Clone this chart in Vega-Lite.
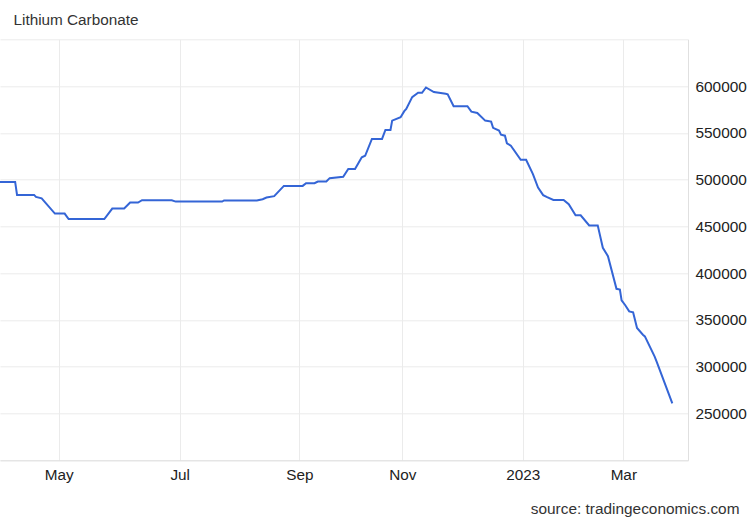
{
  "$schema": "https://vega.github.io/schema/vega-lite/v6.json",
  "width": 688,
  "height": 421,
  "autosize": "none",
  "padding": {"left": 0, "top": 39.3, "right": 62, "bottom": 59.7},
  "background": "white",
  "title": {
    "text": "Lithium Carbonate",
    "anchor": "start",
    "frame": "group",
    "dx": 13.5,
    "dy": 14.5,
    "offset": 13.8,
    "baseline": "alphabetic",
    "font": "Liberation Sans",
    "fontSize": 15.3,
    "fontWeight": "normal",
    "color": "#333333"
  },
  "config": {
    "view": {"stroke": null},
    "font": "Liberation Sans"
  },
  "data": {
    "format": {"parse": {"date": "date"}},
    "values": [
      {"date": "2022-03-31", "value": 497600},
      {"date": "2022-04-08", "value": 497600},
      {"date": "2022-04-09", "value": 483700},
      {"date": "2022-04-18", "value": 483700},
      {"date": "2022-04-19", "value": 481500},
      {"date": "2022-04-22", "value": 480000},
      {"date": "2022-04-29", "value": 463700},
      {"date": "2022-05-04", "value": 463700},
      {"date": "2022-05-06", "value": 457900},
      {"date": "2022-05-24", "value": 457900},
      {"date": "2022-05-28", "value": 469100},
      {"date": "2022-06-03", "value": 469100},
      {"date": "2022-06-06", "value": 475500},
      {"date": "2022-06-10", "value": 475500},
      {"date": "2022-06-12", "value": 478000},
      {"date": "2022-06-27", "value": 478000},
      {"date": "2022-06-29", "value": 476500},
      {"date": "2022-07-23", "value": 476500},
      {"date": "2022-07-24", "value": 477700},
      {"date": "2022-08-10", "value": 477700},
      {"date": "2022-08-13", "value": 479100},
      {"date": "2022-08-15", "value": 480900},
      {"date": "2022-08-19", "value": 482300},
      {"date": "2022-08-24", "value": 493300},
      {"date": "2022-09-03", "value": 493300},
      {"date": "2022-09-05", "value": 496200},
      {"date": "2022-09-10", "value": 496200},
      {"date": "2022-09-12", "value": 498000},
      {"date": "2022-09-17", "value": 498000},
      {"date": "2022-09-19", "value": 501600},
      {"date": "2022-09-27", "value": 503000},
      {"date": "2022-09-30", "value": 511300},
      {"date": "2022-10-04", "value": 511300},
      {"date": "2022-10-08", "value": 523800},
      {"date": "2022-10-10", "value": 525500},
      {"date": "2022-10-14", "value": 543500},
      {"date": "2022-10-20", "value": 543500},
      {"date": "2022-10-22", "value": 553100},
      {"date": "2022-10-25", "value": 553100},
      {"date": "2022-10-26", "value": 563100},
      {"date": "2022-10-31", "value": 566700},
      {"date": "2022-11-02", "value": 573200},
      {"date": "2022-11-03", "value": 575600},
      {"date": "2022-11-06", "value": 588200},
      {"date": "2022-11-09", "value": 592800},
      {"date": "2022-11-11", "value": 592800},
      {"date": "2022-11-13", "value": 598500},
      {"date": "2022-11-17", "value": 593600},
      {"date": "2022-11-23", "value": 591700},
      {"date": "2022-11-24", "value": 591200},
      {"date": "2022-11-27", "value": 578500},
      {"date": "2022-12-04", "value": 578500},
      {"date": "2022-12-06", "value": 572700},
      {"date": "2022-12-09", "value": 571300},
      {"date": "2022-12-13", "value": 563100},
      {"date": "2022-12-16", "value": 562000},
      {"date": "2022-12-17", "value": 555300},
      {"date": "2022-12-20", "value": 552400},
      {"date": "2022-12-21", "value": 548100},
      {"date": "2022-12-23", "value": 547000},
      {"date": "2022-12-24", "value": 538800},
      {"date": "2022-12-26", "value": 536300},
      {"date": "2022-12-31", "value": 521300},
      {"date": "2023-01-03", "value": 521300},
      {"date": "2023-01-07", "value": 505900},
      {"date": "2023-01-10", "value": 491600},
      {"date": "2023-01-13", "value": 483400},
      {"date": "2023-01-15", "value": 481500},
      {"date": "2023-01-19", "value": 478300},
      {"date": "2023-01-25", "value": 478300},
      {"date": "2023-01-28", "value": 473700},
      {"date": "2023-02-01", "value": 461900},
      {"date": "2023-02-04", "value": 461900},
      {"date": "2023-02-09", "value": 451100},
      {"date": "2023-02-14", "value": 451100},
      {"date": "2023-02-17", "value": 427100},
      {"date": "2023-02-20", "value": 418200},
      {"date": "2023-02-25", "value": 383300},
      {"date": "2023-02-27", "value": 382500},
      {"date": "2023-02-28", "value": 371000},
      {"date": "2023-03-02", "value": 365700},
      {"date": "2023-03-04", "value": 359200},
      {"date": "2023-03-06", "value": 358200},
      {"date": "2023-03-08", "value": 341400},
      {"date": "2023-03-11", "value": 334200},
      {"date": "2023-03-12", "value": 332400},
      {"date": "2023-03-17", "value": 310900},
      {"date": "2023-03-18", "value": 305400},
      {"date": "2023-03-26", "value": 260900}
    ]
  },
  "mark": {"type": "line", "color": "#3465d6", "strokeWidth": 2, "interpolate": "linear"},
  "encoding": {
    "x": {
      "field": "date",
      "type": "quantitative",
      "scale": {
        "type": "linear",
        "nice": false,
        "zero": false,
        "domain": [1648684800000, 1651363200000, 1656633600000, 1661990400000, 1667260800000, 1672531200000, 1677628800000, 1680480000000],
        "range": [0, 58.7, 179.7, 299.3, 402.3, 522.7, 623.3, 688]
      },
      "axis": {
        "values": [1651363200000, 1656633600000, 1661990400000, 1667260800000, 1672531200000, 1677628800000],
        "labelExpr": "utcmonth(datum.value) == 0 ? utcFormat(datum.value, '%Y') : utcFormat(datum.value, '%b')",
        "grid": true,
        "gridColor": "#ebebeb",
        "gridWidth": 1,
        "ticks": false,
        "domain": true,
        "domainColor": "#e0e0e0",
        "domainWidth": 1,
        "labelFont": "Liberation Sans",
        "labelFontSize": 15.3,
        "labelColor": "#222222",
        "labelPadding": 7,
        "labelFlush": false,
        "labelOverlap": false,
        "title": "source: tradingeconomics.com",
        "titleFont": "Liberation Sans",
        "titleFontSize": 15.4,
        "titleFontWeight": "normal",
        "titleColor": "#333333",
        "titleAlign": "right",
        "titleBaseline": "alphabetic",
        "titleX": 739,
        "titleY": 53
      }
    },
    "y": {
      "field": "value",
      "type": "quantitative",
      "scale": {"domain": [200000, 650000], "nice": false, "zero": false},
      "axis": {
        "orient": "right",
        "values": [200000, 250000, 300000, 350000, 400000, 450000, 500000, 550000, 600000, 650000],
        "labelExpr": "datum.value == 200000 || datum.value == 650000 ? '' : format(datum.value, 'd')",
        "grid": true,
        "gridColor": "#ebebeb",
        "gridWidth": 1,
        "ticks": false,
        "domain": true,
        "domainColor": "#e0e0e0",
        "domainWidth": 1,
        "labelFont": "Liberation Sans",
        "labelFontSize": 15.4,
        "labelColor": "#222222",
        "labelPadding": 7,
        "labelFlush": false,
        "title": null
      }
    }
  }
}
